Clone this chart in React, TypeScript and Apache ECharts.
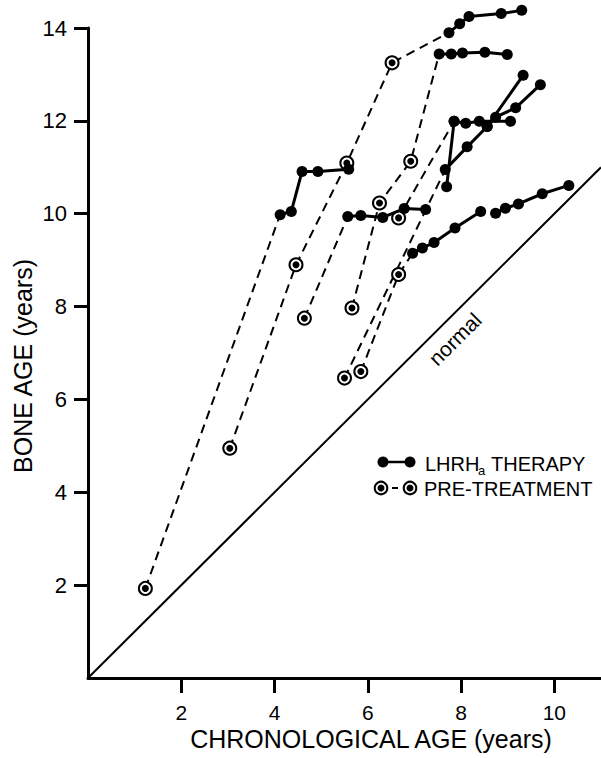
import React, { useEffect, useRef } from 'react';
import * as echarts from 'echarts';

const xTicks = [2, 4, 6, 8, 10];
const yTicks = [2, 4, 6, 8, 10, 12, 14];
const normalLine = [[0, 0], [11, 11]];

// pre-treatment (open ring) points and LHRHa therapy (filled) points per patient
const preA = [[1.23, 1.93]];
const therA = [[4.12, 9.98], [4.36, 10.05], [4.59, 10.91], [4.93, 10.91], [5.59, 10.96]];
const preB = [[3.04, 4.95], [4.46, 8.9], [5.55, 11.09], [6.52, 13.25]];
const therB = [[7.74, 13.9], [7.97, 14.09], [8.17, 14.25], [8.86, 14.31], [9.3, 14.38]];
const preC = [[4.64, 7.75]];
const therC = [[5.57, 9.94], [5.85, 9.96], [6.32, 9.92], [6.78, 10.11], [7.24, 10.09]];
const preD = [[5.66, 7.97], [6.25, 10.23], [6.92, 11.13]];
const therD = [[7.53, 13.44], [7.79, 13.44], [8.03, 13.46], [8.51, 13.48], [8.99, 13.43]];
const preE = [[5.5, 6.46]];
const therE = [[7.66, 10.95], [8.13, 11.44], [8.56, 11.88], [9.33, 12.98]];
const preF = [[6.66, 9.91]];
const therF = [[7.85, 11.99], [8.1, 11.95], [8.39, 11.99], [9.06, 11.99]];
const therG = [[7.69, 10.58], [7.85, 11.99]];
const therH = [[8.56, 11.88], [8.74, 12.08], [9.17, 12.28], [9.7, 12.78]];
const preI = [[5.85, 6.6], [6.66, 8.69]];
const therI = [[6.96, 9.15], [7.17, 9.26], [7.42, 9.38], [7.87, 9.69], [8.42, 10.05]];
const therJ = [[8.74, 10.01], [8.95, 10.12], [9.23, 10.21], [9.74, 10.43], [10.31, 10.61]];

const pairs: [number[][], number[][]][] = [
  [preA, therA], [preB, therB], [preC, therC], [preD, therD], [preE, therE],
  [preF, therF], [[], therG], [[], therH], [preI, therI], [[], therJ],
];

const FONT = '"Liberation Sans", Arial, Helvetica, sans-serif';

export default function App() {
  const ref = useRef<HTMLDivElement>(null);
  useEffect(() => {
    if (!ref.current) return;
    const chart = echarts.init(ref.current, undefined, { renderer: 'svg' });
    const series: any[] = [];
    series.push({
      type: 'line', data: normalLine, symbol: 'none', silent: true, z: 1,
      lineStyle: { color: '#000', width: 2 },
    });
    pairs.forEach(([pre, ther]) => {
      if (pre.length) {
        series.push({
          type: 'line', data: [...pre, ther[0]], symbol: 'none', z: 2, clip: false,
          lineStyle: { color: '#000', width: 2, type: [9, 6] },
        });
      }
    });
    const allPre = pairs.flatMap(([pre]) => pre);
    series.push({
      type: 'scatter', data: allPre, symbol: 'circle', symbolSize: 13, z: 3, clip: false,
      itemStyle: { color: '#fff', borderColor: '#000', borderWidth: 2, opacity: 1 },
    });
    series.push({
      type: 'scatter', data: allPre, symbol: 'circle', symbolSize: 7, z: 4, clip: false,
      itemStyle: { color: '#000', opacity: 1 },
    });
    pairs.forEach(([, ther]) => {
      series.push({
        type: 'line', data: ther, symbol: 'circle', symbolSize: 11, showSymbol: true, z: 5, clip: false,
        lineStyle: { color: '#000', width: 3 },
        itemStyle: { color: '#000', borderWidth: 0 },
      });
    });

    const option: any = {
      animation: false,
      backgroundColor: '#fff',
      grid: { left: 88, top: 28, width: 514, height: 650, containLabel: false },
      xAxis: {
        type: 'value', min: 0, max: 11, interval: 1,
        splitLine: { show: false },
        axisLine: { show: true, onZero: false, lineStyle: { color: '#000', width: 3 } },
        axisTick: { show: true, length: 15, lineStyle: { color: '#000', width: 3 }, customValues: xTicks },
        axisLabel: { customValues: xTicks, fontSize: 21, lineHeight: 21, color: '#000', margin: 24, fontFamily: FONT },
      },
      yAxis: {
        type: 'value', min: 0, max: 14, interval: 1,
        splitLine: { show: false },
        axisLine: { show: true, onZero: false, lineStyle: { color: '#000', width: 3 } },
        axisTick: { show: true, length: 14, lineStyle: { color: '#000', width: 3 }, customValues: yTicks },
        axisLabel: { customValues: yTicks, fontSize: 22, color: '#000', margin: 21, fontFamily: FONT },
      },
      series,
      graphic: [
        {
          type: 'text', x: 455, y: 339, rotation: Math.PI / 4,
          style: { text: 'normal', fontSize: 21, fontFamily: FONT, fill: '#000', align: 'center', verticalAlign: 'middle' },
        },
        {
          type: 'text', x: 371, y: 739,
          style: { text: 'CHRONOLOGICAL AGE (years)', fontSize: 25, lineHeight: 25, fontFamily: FONT, fill: '#000', align: 'center', verticalAlign: 'middle' },
        },
        {
          type: 'text', x: 23, y: 366, rotation: Math.PI / 2,
          style: { text: 'BONE AGE (years)', fontSize: 25, fontFamily: FONT, fill: '#000', align: 'center', verticalAlign: 'middle' },
        },
        // legend row 1
        { type: 'line', shape: { x1: 383, y1: 462, x2: 410, y2: 462 }, style: { stroke: '#000', lineWidth: 2.5 } },
        { type: 'circle', shape: { cx: 383, cy: 462, r: 5.5 }, style: { fill: '#000' } },
        { type: 'circle', shape: { cx: 410, cy: 462, r: 5.5 }, style: { fill: '#000' } },
        { type: 'text', x: 425, y: 464, style: { text: 'LHRH', fontSize: 20, fontFamily: FONT, fill: '#000', verticalAlign: 'middle' } },
        { type: 'text', x: 478, y: 470, style: { text: 'a', fontSize: 13, fontFamily: FONT, fill: '#000', verticalAlign: 'middle' } },
        { type: 'text', x: 491, y: 464, style: { text: 'THERAPY', fontSize: 20, fontFamily: FONT, fill: '#000', verticalAlign: 'middle' } },
        // legend row 2
        { type: 'line', shape: { x1: 381, y1: 488, x2: 410, y2: 488 }, style: { stroke: '#000', lineWidth: 2, lineDash: [6, 5] } },
        { type: 'circle', shape: { cx: 381, cy: 488, r: 6.3 }, style: { fill: '#fff', stroke: '#000', lineWidth: 2 } },
        { type: 'circle', shape: { cx: 381, cy: 488, r: 3.5 }, style: { fill: '#000' } },
        { type: 'circle', shape: { cx: 410, cy: 488, r: 6.3 }, style: { fill: '#fff', stroke: '#000', lineWidth: 2 } },
        { type: 'circle', shape: { cx: 410, cy: 488, r: 3.5 }, style: { fill: '#000' } },
        { type: 'text', x: 424, y: 489, style: { text: 'PRE-TREATMENT', fontSize: 20, fontFamily: FONT, fill: '#000', verticalAlign: 'middle' } },
      ],
    };
    chart.setOption(option);
    return () => chart.dispose();
  }, []);
  return (
    <div
      ref={ref}
      style={{ position: 'absolute', left: 0, top: 0, width: 601, height: 758, background: '#fff' }}
    />
  );
}
